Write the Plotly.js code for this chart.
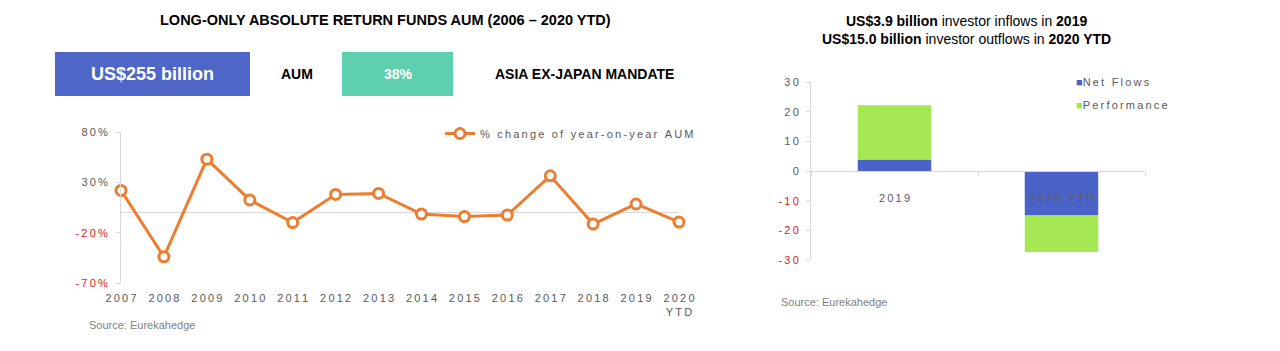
<!DOCTYPE html>
<html>
<head>
<meta charset="utf-8">
<script src="https://cdn.plot.ly/plotly-3.0.1.min.js"></script>
<style>html,body{margin:0;padding:0;background:#fff;}#chart{width:1280px;height:351px;}</style>
</head>
<body>
<div id="chart"></div>
<script>
// ---- data ----
const years = ['2007','2008','2009','2010','2011','2012','2013','2014','2015','2016','2017','2018','2019','2020 YTD'];
const yearLabels = ['2007','2008','2009','2010','2011','2012','2013','2014','2015','2016','2017','2018','2019','2020<br>YTD'];
const aumChange = [22, -44, 53, 12.5, -10, 18, 19, -1.5, -4, -2.5, 36.5, -11.5, 8.5, -9.5];
const pctTickVals = [-70, -20, 30, 80];
const pctTickLabels = ['-70%', '-20%', '30%', '80%'];

const flowCats = ['2019', '2020 YTD'];
const netFlows = [3.9, -15.0];
const performance = [18.3, -12.3];
const flowTickVals = [-30, -20, -10, 0, 10, 20, 30];
const flowTickLabels = ['-30', '-20', '-10', '0', '10', '20', '30'];

// ---- helpers ----
const W = 1280, H = 351;
const px = x => x / W;
const py = y => 1 - y / H;
const TS = '\u2009';
const spaced = s => s.split('<br>').map(l => l.split('').join(TS)).join('<br>');
const GRAY = '#595959', RED = '#e0201b', AX = '#d9d9d9';
const BLUE = '#4B63C9', GREEN = '#A5E853', ORANGE = '#ED7D31';
const tickTxt = (labels, vals) => labels.map((l, i) => vals[i] < 0
  ? '<span style="color:' + RED + '">' + spaced(l) + '</span>' : spaced(l));
const NARROW = '"Liberation Sans Narrow", "Arial Narrow", "Liberation Sans", Arial, sans-serif';
const SANS = '"Liberation Sans", Arial, sans-serif';

const traces = [
  {
    type: 'scatter', mode: 'lines+markers', x: years, y: aumChange,
    xaxis: 'x', yaxis: 'y', name: spaced('% change of year-on-year AUM'),
    line: {color: ORANGE, width: 3},
    marker: {symbol: 'circle', size: 10, color: '#ffffff', line: {color: ORANGE, width: 3}},
    cliponaxis: false, legend: 'legend', hoverinfo: 'x+y'
  },
  {
    type: 'bar', x: flowCats, y: netFlows, xaxis: 'x2', yaxis: 'y2',
    name: 'Net Flows', marker: {color: BLUE}, showlegend: false
  },
  {
    type: 'bar', x: flowCats, y: performance, xaxis: 'x2', yaxis: 'y2',
    name: 'Performance', marker: {color: GREEN}, showlegend: false
  },
  // legend entries for the bars (colour square drawn as part of the label)
  {
    type: 'scatter', mode: 'markers', x: [null], y: [null], xaxis: 'x2', yaxis: 'y2',
    name: '<span style="color:' + BLUE + '">\u25A0</span>' + spaced('Net Flows'),
    marker: {symbol: 'square', size: 0, color: 'rgba(0,0,0,0)', line: {width: 0}},
    legend: 'legend2', legendgroup: 'a', hoverinfo: 'skip'
  },
  {
    type: 'scatter', mode: 'markers', x: [null], y: [null], xaxis: 'x2', yaxis: 'y2',
    name: '<span style="color:' + GREEN + '">\u25A0</span>' + spaced('Performance'),
    marker: {symbol: 'square', size: 0, color: 'rgba(0,0,0,0)', line: {width: 0}},
    legend: 'legend2', legendgroup: 'b', hoverinfo: 'skip'
  }
];

const yDomL = [py(283), py(132)];
const yDomR = [py(260), py(82)];

const layout = {
  width: W, height: H,
  margin: {l: 0, r: 0, t: 0, b: 0},
  paper_bgcolor: '#ffffff', plot_bgcolor: '#ffffff',
  font: {family: SANS, size: 11, color: GRAY},
  barmode: 'relative', bargap: 0.56,
  showlegend: true,
  xaxis: {
    domain: [px(121), px(679)], anchor: 'y', type: 'category',
    range: [0, 13], showgrid: false, showline: false, zeroline: false, ticks: '',
    tickvals: years, ticktext: yearLabels.map(spaced), tickangle: 0,
    ticklabelstandoff: 7, tickfont: {size: 11, color: GRAY}
  },
  yaxis: {
    domain: yDomL, anchor: 'x', range: [-70, 80], showgrid: false,
    showline: true, linecolor: AX, linewidth: 1,
    ticks: 'outside', ticklen: 4, tickcolor: AX,
    zeroline: true, zerolinecolor: AX, zerolinewidth: 1,
    tickvals: pctTickVals, ticktext: tickTxt(pctTickLabels, pctTickVals),
    ticklabelstandoff: 6, tickfont: {size: 11, color: GRAY}
  },
  xaxis2: {
    domain: [px(811), px(1145)], anchor: 'free', position: (yDomR[0] + yDomR[1]) / 2,
    type: 'category', range: [-0.5, 1.5], showgrid: false,
    showline: true, linecolor: AX, linewidth: 1, zeroline: false,
    ticks: 'outside', tickson: 'boundaries', ticklen: 4, tickcolor: AX,
    tickvals: flowCats, ticktext: flowCats.map(spaced),
    ticklabelstandoff: 17, tickfont: {size: 11, color: GRAY}
  },
  yaxis2: {
    domain: yDomR, anchor: 'x2', range: [-30, 30], showgrid: false,
    showline: true, linecolor: AX, linewidth: 1, zeroline: false,
    ticks: 'outside', ticklen: 4, tickcolor: AX,
    tickvals: flowTickVals, ticktext: tickTxt(flowTickLabels, flowTickVals),
    ticklabelstandoff: 5, tickfont: {size: 11, color: GRAY}
  },
  legend: {
    x: px(440), y: py(119), xanchor: 'left', yanchor: 'top',
    bgcolor: 'rgba(0,0,0,0)', font: {size: 11, color: GRAY}, itemwidth: 30
  },
  legend2: {
    x: px(1036), y: py(67), xanchor: 'left', yanchor: 'top', traceorder: 'grouped',
    tracegroupgap: 4, bgcolor: 'rgba(0,0,0,0)', font: {size: 11, color: GRAY}, itemwidth: 30
  },
  shapes: [
    {type: 'rect', xref: 'paper', yref: 'paper', x0: px(55), x1: px(250), y0: py(96), y1: py(52),
     fillcolor: '#4F66C9', line: {width: 0}, layer: 'below'},
    {type: 'rect', xref: 'paper', yref: 'paper', x0: px(342), x1: px(453), y0: py(96), y1: py(52),
     fillcolor: '#5ED0B0', line: {width: 0}, layer: 'below'}
  ],
  annotations: [
    {xref: 'paper', yref: 'paper', x: px(385), y: py(20), xanchor: 'center', yanchor: 'middle', showarrow: false,
     text: '<b>LONG-ONLY ABSOLUTE RETURN FUNDS AUM (2006 \u2013 2020 YTD)</b>',
     font: {family: NARROW, size: 14.5, color: '#000000'}},
    {xref: 'paper', yref: 'paper', x: px(152), y: py(74), xanchor: 'center', yanchor: 'middle', showarrow: false,
     text: '<b>US$255 billion</b>', font: {family: NARROW, size: 18, color: '#ffffff'}},
    {xref: 'paper', yref: 'paper', x: px(297), y: py(74), xanchor: 'center', yanchor: 'middle', showarrow: false,
     text: '<b>AUM</b>', font: {family: NARROW, size: 14, color: '#000000'}},
    {xref: 'paper', yref: 'paper', x: px(398), y: py(74), xanchor: 'center', yanchor: 'middle', showarrow: false,
     text: '<b>38%</b>', font: {family: NARROW, size: 14, color: '#ffffff'}},
    {xref: 'paper', yref: 'paper', x: px(584), y: py(74), xanchor: 'center', yanchor: 'middle', showarrow: false,
     text: '<b>ASIA EX-JAPAN MANDATE</b>', font: {family: NARROW, size: 14, color: '#000000'}},
    {xref: 'paper', yref: 'paper', x: px(87), y: py(325), xanchor: 'left', yanchor: 'middle', showarrow: false,
     text: 'Source: Eurekahedge', font: {family: NARROW, size: 11, color: '#7f7f7f'}},
    {xref: 'paper', yref: 'paper', x: px(779), y: py(302), xanchor: 'left', yanchor: 'middle', showarrow: false,
     text: 'Source: Eurekahedge', font: {family: NARROW, size: 11, color: '#7f7f7f'}},
    {xref: 'paper', yref: 'paper', x: px(966), y: py(30), xanchor: 'center', yanchor: 'middle', showarrow: false,
     text: '<b>US$3.9 billion</b> investor inflows in <b>2019</b><br><b>US$15.0 billion</b> investor outflows in <b>2020 YTD</b>',
     font: {family: NARROW, size: 14, color: '#000000'}}
  ]
};

Plotly.newPlot('chart', traces, layout, {displayModeBar: false, staticPlot: true});
</script>
</body>
</html>
